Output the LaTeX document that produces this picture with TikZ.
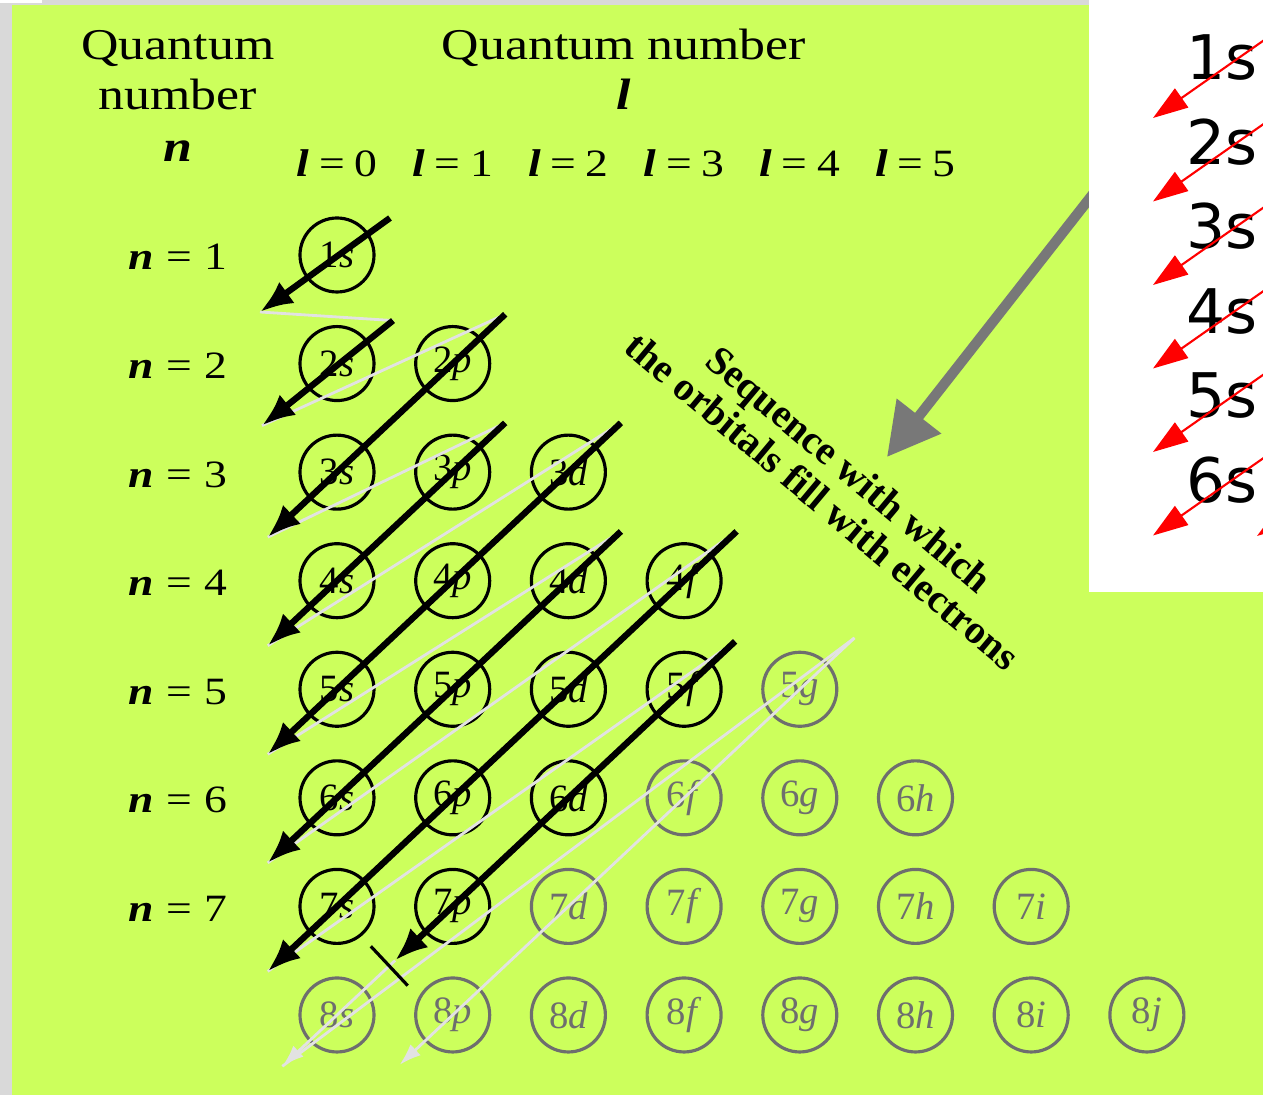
\documentclass[tikz,border=0pt]{standalone}
\usepackage{fontspec}
\setmainfont{Liberation Serif}
\newfontfamily\headfont[FakeStretch=1.18]{Liberation Serif}
\newfontfamily\insetfont{DejaVu Sans}
\usetikzlibrary{arrows.meta, calc}
\definecolor{panelgreen}{HTML}{CCFF5C}
\definecolor{framegray}{HTML}{D9D9D9}
\definecolor{lightpath}{HTML}{E2E2E2}
\definecolor{emptygray}{HTML}{6E6E6E}
\definecolor{pointergray}{HTML}{787878}
\tikzset{
	orbnode/.style={
			circle,
			draw=#1,
			text=#1,
			line width=0.9pt,
			minimum size=7.4mm,
			inner sep=0pt,
			font=\fontsize{11}{12}\selectfont
		},
	fillarrow/.style={
			line width=1.8pt,
			-{Latex[length=3.3mm,width=2.6mm]}
		},
	lightline/.style={
			draw=lightpath,
			line width=0.8pt
		},
	lightarrow/.style={
			lightline,
			-{Latex[length=2.2mm,width=1.5mm]}
		},
	headtext/.style={
			font=\headfont\fontsize{12.5}{14}\selectfont,
			inner sep=0pt
		},
	labeltext/.style={
			font=\headfont\fontsize{11}{13}\selectfont,
			inner sep=0pt
		},
	seqtext/.style={
			font=\fontsize{11.4}{11.8}\selectfont\bfseries,
			align=center,
			inner sep=0pt
		},
	insettext/.style={
			font=\insetfont\fontsize{17.5}{20}\selectfont,
			inner sep=0pt
		},
	redarrow/.style={
			draw=red,
			line width=0.6pt,
			-{Triangle[length=3.5mm,width=2.3mm]}
		}
}

\begin{document}
\begin{tikzpicture}
				\useasboundingbox (0,0) rectangle (12.63,-10.95);
				\fill[framegray] (0,0) rectangle (12.63,-10.95);
				\fill[white] (0,0) rectangle (0.42,-0.03);
				\fill[panelgreen] (0.12,-0.05) rectangle (12.63,-10.95);

				% headers
				\node[headtext, anchor=base] (qleft) at (1.78,-0.60) {Quantum};
				\node[headtext, anchor=base] (numleft) at (1.78,-1.10) {number};
				\node[headtext, anchor=base] (nsym) at (1.78,-1.62) {\textbf{\textit{n}}};
				\node[headtext, anchor=base] (qright) at (6.24,-0.60) {Quantum number};
				\node[headtext, anchor=base] (lsym) at (6.24,-1.10) {\textbf{\textit{l}}};

				\foreach \lnum in {0,...,5}
					\node[labeltext, anchor=base] (llab\lnum) at ({3.37+1.157*\lnum},-1.77) {\textbf{\textit{l}}\hspace{.25em}=\hspace{.25em}\lnum};
				\foreach \n in {1,...,7}
					\node[labeltext, anchor=base] (nlab\n) at (1.78,{-2.70-1.0857*(\n-1)}) {\textbf{\textit{n}}\hspace{.33em}=\hspace{.33em}\n};

				% orbitals
				\foreach \n in {1,...,8}
					\foreach \lnum/\lsub in {0/s,1/p,2/d,3/f,4/g,5/h,6/i,7/j} {
						\ifnum\lnum<\n
							\pgfmathtruncatemacro\isfull{(\n+\lnum<9)&&(\n<8)}
							\ifnum\isfull=1 \def\orbcol{black}\else\def\orbcol{emptygray}\fi
							\node[orbnode=\orbcol] (o\n\lsub) at ({3.37+1.157*\lnum},{-2.55-1.0857*(\n-1)}) {\n\textit{\lsub}};
						\fi
					}

				% ends of the filling diagonals
				\coordinate (s1) at ($(o1s)+(0.53,0.37)$);
				\coordinate (t1) at ($(o1s)+(-0.77,-0.57)$);
				\coordinate (s2) at ($(o2s)+(0.56,0.43)$);
				\coordinate (t2) at ($(o2s)+(-0.75,-0.62)$);
				\foreach \k/\fromorb/\toorb in {3/o2p/o3s,4/o3p/o4s,5/o3d/o5s,6/o4d/o6s,7/o4f/o7s} {
					\coordinate (s\k) at ($(\fromorb)!-0.72cm!(\toorb)$);
					\coordinate (t\k) at ($(\toorb)!-0.95cm!(\fromorb)$);
				}
				\coordinate (s8) at ($(o5f)!-0.70cm!(o7p)$);
				\coordinate (t8) at ($(o7p)!-0.79cm!(o5f)$);
				\coordinate (t8s) at ($(o8s)!-0.75cm!(o7p)$);
				\coordinate (s9) at ($(o5g)!-0.75cm!(o8p)$);
				\coordinate (t9) at ($(o8p)!-0.73cm!(o5g)$);

				\foreach \a/\b in {t1/s2,t2/s3,t3/s4,t4/s5,t5/s6,t6/s7,t7/s8,t8s/s9}
					\draw[lightline] (\a) -- (\b);
				\draw[lightarrow] (t8) -- (t8s);
				\draw[lightarrow] (s9) -- (t9);

				\foreach \k in {1,...,8}
					\draw[fillarrow] (s\k) -- (t\k);

				\coordinate (barc) at ($(t8)!-0.08cm!(o7p)$);
				\coordinate (barA) at ($(barc)!0.27cm!90:(t8)$);
				\coordinate (barB) at ($(barc)!0.27cm!-90:(t8)$);
				\draw[line width=0.9pt] (barA) -- (barB);

				% pointer and its caption
				\node[seqtext, rotate=-40] (seq) at (8.36,-4.85) {Sequence with which\\the orbitals fill with electrons};
				\coordinate (pstart) at (11.40,-1.34);
				\coordinate (ptip) at (8.87,-4.57);
				\draw[pointergray, line width=2.9pt, -{Triangle[length=5.2mm,width=5.4mm]}] (pstart) -- (ptip);

				% inset
				\fill[white] (10.89,0) rectangle (12.63,-5.92);
				\begin{scope}
					\clip (10.89,0) rectangle (12.63,-5.92);
					\foreach \k in {1,...,6} {
						\node[insettext, anchor=base west] (r\k) at (11.86,{-0.80-0.845*(\k-1)}) {\k s};
						\coordinate (rs\k) at (13.00,{-0.15-0.835*(\k-1)});
						\coordinate (rt\k) at (11.53,{-1.18-0.835*(\k-1)});
						\draw[redarrow] (rs\k) -- (rt\k);
					}
					\coordinate (rs7) at (14.00,-4.36);
					\coordinate (rt7) at (12.57,-5.36);
					\draw[redarrow] (rs7) -- (rt7);
				\end{scope}
			\end{tikzpicture}
\end{document}
